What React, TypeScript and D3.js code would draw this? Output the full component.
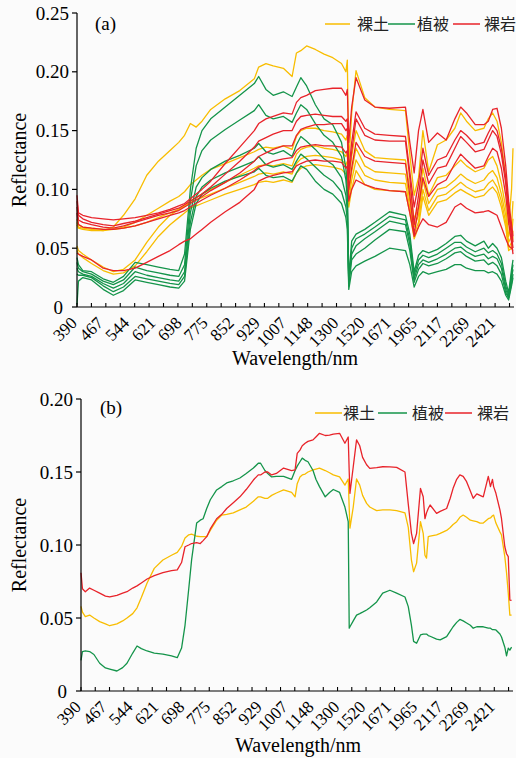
import React from 'react';
import * as d3 from 'd3';

// band index (water-vapour bands removed, so the axis is index based)
const bandA = [0, 1, 4, 10, 18, 25, 32, 40, 48, 56, 64, 70, 74, 78, 82, 86, 92, 102, 112, 122, 125, 130, 135, 142, 148, 151, 154, 158, 164, 170, 176, 182, 185, 186, 187, 189, 192, 198, 205, 215, 226, 229, 232, 235, 238, 242, 248, 254, 260, 264, 268, 274, 280, 283, 286, 289, 292, 295, 297, 299, 300];

// (a) individual spectra
const soilA = [
  [.072, .068, .067, .066, .065, .068, .078, .092, .112, .124, .133, .140, .146, .156, .153, .158, .168, .177, .184, .194, .204, .207, .205, .203, .196, .216, .218, .222, .219, .215, .212, .207, .200, .210, .120, .165, .201, .178, .170, .168, .167, .130, .095, .110, .150, .115, .138, .142, .152, .165, .158, .150, .152, .160, .165, .158, .140, .110, .070, .100, .135],
  [.075, .070, .068, .067, .066, .066, .068, .072, .078, .084, .090, .094, .098, .104, .108, .112, .117, .122, .127, .132, .134, .136, .135, .137, .134, .145, .150, .152, .152, .150, .149, .147, .142, .146, .105, .128, .150, .133, .127, .126, .125, .100, .075, .085, .118, .095, .110, .112, .120, .125, .120, .115, .118, .125, .128, .120, .105, .085, .060, .070, .090],
  [.070, .067, .066, .065, .065, .066, .067, .069, .072, .076, .080, .083, .086, .090, .093, .096, .100, .106, .112, .118, .120, .121, .120, .122, .120, .130, .134, .136, .137, .135, .134, .132, .128, .132, .095, .115, .135, .120, .115, .114, .113, .090, .068, .078, .108, .088, .100, .102, .108, .113, .109, .105, .108, .113, .116, .110, .096, .078, .055, .060, .075],
  [.052, .048, .045, .040, .034, .030, .032, .040, .055, .068, .078, .083, .086, .089, .091, .093, .096, .101, .106, .111, .113, .114, .113, .115, .113, .122, .126, .128, .129, .128, .127, .125, .121, .124, .090, .108, .125, .112, .108, .106, .105, .085, .062, .072, .100, .082, .094, .096, .102, .106, .102, .098, .100, .105, .108, .102, .090, .072, .050, .055, .065],
  [.048, .045, .042, .037, .031, .028, .029, .035, .047, .060, .070, .076, .080, .084, .086, .088, .091, .096, .100, .104, .106, .107, .106, .108, .106, .114, .118, .120, .121, .120, .119, .117, .113, .116, .085, .100, .116, .104, .100, .099, .098, .080, .058, .068, .094, .078, .089, .091, .097, .100, .097, .093, .095, .099, .102, .097, .085, .068, .048, .050, .060],
];
const vegA = [
  [.042, .036, .031, .030, .024, .021, .026, .038, .036, .034, .032, .031, .045, .100, .135, .150, .160, .170, .180, .190, .196, .185, .180, .183, .179, .187, .195, .188, .172, .160, .155, .140, .118, .100, .025, .056, .062, .066, .072, .081, .078, .062, .030, .044, .048, .046, .049, .054, .060, .061, .056, .052, .056, .050, .054, .050, .042, .022, .012, .032, .040],
  [.038, .033, .030, .028, .022, .019, .023, .034, .031, .029, .027, .026, .036, .090, .120, .133, .142, .151, .159, .167, .172, .163, .160, .162, .157, .165, .172, .168, .156, .146, .140, .128, .108, .092, .022, .050, .058, .062, .068, .077, .074, .057, .027, .040, .044, .042, .045, .050, .055, .055, .051, .047, .050, .046, .048, .045, .037, .018, .010, .028, .036],
  [.033, .030, .028, .026, .020, .016, .020, .030, .027, .025, .023, .022, .030, .080, .102, .110, .117, .124, .129, .135, .139, .132, .130, .133, .128, .138, .145, .141, .134, .126, .121, .110, .095, .082, .020, .045, .052, .058, .064, .073, .070, .053, .024, .036, .040, .038, .041, .045, .050, .051, .047, .043, .045, .041, .043, .041, .033, .015, .008, .025, .032],
  [.028, .027, .027, .025, .018, .013, .017, .026, .024, .022, .020, .019, .026, .072, .094, .102, .108, .114, .119, .124, .128, .121, .119, .121, .117, .124, .130, .126, .119, .112, .107, .098, .085, .074, .018, .040, .045, .050, .057, .066, .064, .048, .021, .032, .037, .035, .037, .041, .046, .047, .043, .039, .040, .036, .038, .035, .028, .012, .008, .020, .028],
  [.002, .022, .025, .023, .015, .010, .014, .023, .021, .019, .017, .016, .022, .066, .088, .096, .101, .107, .111, .115, .118, .112, .110, .111, .107, .114, .120, .117, .107, .100, .096, .088, .076, .066, .015, .030, .035, .039, .043, .050, .048, .036, .017, .026, .030, .028, .030, .032, .036, .036, .033, .031, .031, .029, .030, .028, .022, .010, .006, .018, .025],
];
const rockA = [
  [.095, .080, .078, .076, .075, .074, .075, .076, .078, .080, .083, .086, .088, .092, .096, .100, .107, .122, .136, .150, .156, .160, .162, .165, .164, .174, .178, .180, .184, .185, .186, .186, .180, .185, .140, .170, .195, .176, .170, .169, .170, .140, .114, .150, .168, .140, .148, .142, .160, .170, .165, .155, .155, .158, .168, .169, .152, .120, .090, .070, .060],
  [.090, .078, .075, .072, .070, .069, .071, .073, .076, .079, .082, .084, .087, .090, .093, .096, .102, .113, .124, .136, .141, .144, .147, .150, .150, .158, .162, .163, .164, .163, .162, .162, .158, .160, .115, .140, .166, .152, .147, .146, .145, .115, .085, .105, .135, .112, .125, .128, .142, .150, .146, .138, .140, .148, .155, .150, .135, .110, .085, .065, .055],
  [.085, .074, .072, .070, .068, .067, .069, .072, .075, .078, .080, .082, .085, .088, .091, .094, .099, .106, .114, .124, .128, .131, .134, .137, .137, .146, .151, .153, .155, .155, .156, .156, .150, .152, .110, .132, .160, .146, .142, .141, .141, .110, .070, .095, .125, .105, .118, .120, .135, .145, .140, .132, .134, .142, .150, .145, .130, .105, .080, .060, .050],
  [.080, .070, .068, .067, .066, .066, .067, .069, .072, .075, .078, .080, .082, .085, .088, .091, .095, .101, .108, .116, .119, .121, .124, .126, .127, .133, .136, .137, .138, .137, .137, .136, .131, .133, .100, .118, .140, .128, .124, .123, .122, .095, .062, .085, .110, .094, .104, .108, .122, .130, .125, .118, .120, .128, .135, .132, .118, .095, .072, .055, .045],
  [.046, .045, .043, .040, .033, .031, .031, .033, .038, .043, .048, .053, .056, .058, .062, .066, .072, .081, .089, .100, .107, .110, .112, .114, .115, .120, .122, .124, .125, .124, .124, .123, .118, .120, .090, .100, .108, .104, .101, .099, .098, .080, .060, .068, .075, .070, .068, .072, .085, .088, .084, .080, .081, .082, .080, .078, .068, .058, .052, .050, .048],
];

// (b) class means
const bandB = [0, 1, 3, 6, 9, 13, 17, 20, 25, 29, 32, 36, 39, 42, 46, 51, 57, 63, 67, 70, 72.4, 75, 77, 80.5, 83, 85, 87.5, 90, 94.4, 98, 101.4, 106, 110.6, 115, 120, 123.4, 125, 128, 130, 132.7, 136, 141, 146.6, 149, 150.5, 152.4, 154, 156, 158, 161.5, 163.5, 166, 170, 173, 175.6, 180, 183.7, 186, 186.7, 187.2, 189.5, 191.8, 194, 196, 198.8, 201, 205.8, 210, 215, 219.7, 225.5, 227.8, 230, 231.5, 233.6, 236.3, 238.2, 239.4, 240.5, 241.7, 243, 247.5, 250, 254.5, 257, 259, 261.5, 263.7, 266, 268.4, 271, 273, 275.5, 277.7, 280, 283.5, 285, 286.4, 287.2, 288.8, 291.6, 292.7, 295, 296.2, 297.4, 298.5, 299.7];
const soilB = [.058, .054, .051, .052, .050, .0475, .046, .0447, .046, .048, .050, .053, .057, .064, .074, .084, .0897, .093, .095, .099, .1048, .107, .1075, .106, .1057, .1057, .1057, .110, .117, .1205, .121, .122, .124, .126, .130, .133, .133, .132, .132, .134, .1356, .1377, .136, .133, .142, .1466, .148, .1486, .150, .1514, .152, .1527, .151, .1495, .148, .1466, .141, .1452, .125, .1116, .126, .1452, .141, .134, .1285, .126, .1235, .124, .124, .1235, .122, .112, .0897, .0817, .0876, .116, .108, .093, .091, .1057, .106, .107, .108, .110, .112, .114, .116, .119, .1205, .119, .117, .1166, .116, .115, .115, .118, .1185, .120, .1205, .115, .109, .1068, .092, .081, .067, .052, .052];
const vegB = [.021, .027, .0275, .027, .025, .019, .0158, .015, .0137, .016, .019, .026, .0308, .029, .0274, .026, .0253, .024, .0228, .0294, .045, .070, .090, .115, .117, .118, .125, .131, .1377, .140, .1425, .144, .1459, .149, .1527, .156, .156, .151, .149, .1466, .147, .147, .145, .151, .154, .157, .1595, .158, .157, .151, .145, .140, .133, .136, .138, .136, .126, .116, .043, .044, .048, .052, .053, .054, .0555, .057, .061, .067, .069, .067, .0644, .0578, .045, .034, .0327, .0384, .039, .039, .039, .038, .0375, .0355, .035, .0372, .041, .044, .047, .049, .048, .0466, .045, .043, .044, .044, .044, .043, .043, .042, .042, .0418, .039, .037, .030, .024, .0294, .028, .030];
const rockB = [.081, .070, .068, .0705, .069, .067, .065, .0644, .0655, .067, .068, .0705, .072, .074, .0767, .079, .081, .0825, .083, .088, .0988, .100, .101, .1016, .101, .103, .1057, .111, .118, .121, .125, .129, .133, .138, .1445, .148, .148, .150, .150, .148, .149, .1527, .151, .1514, .1628, .165, .168, .1697, .171, .172, .174, .1765, .175, .1753, .176, .1765, .1697, .174, .150, .1354, .1536, .172, .168, .160, .155, .1525, .153, .1536, .1535, .1532, .150, .128, .108, .101, .108, .1388, .133, .118, .122, .125, .1274, .1217, .123, .125, .132, .1388, .145, .148, .147, .1434, .137, .132, .135, .134, .133, .147, .140, .145, .140, .1354, .124, .118, .0988, .094, .092, .0623, .062];

const wavelengthLabels = ['390', '467', '544', '621', '698', '775', '852', '929', '1007', '1148', '1300', '1520', '1671', '1965', '2117', '2269', '2421'];
const labelStep = 18;
const minorStep = 9.92;
const classNames = ['裸土', '植被', '裸岩'];

const COLORS = ['#f8bd00', '#14944a', '#e8232a'];
const SERIF = "'Liberation Serif', Tinos, 'Times New Roman', 'Nimbus Roman', 'Nimbus Roman No9 L', FreeSerif, 'DejaVu Serif', 'Noto Serif', serif";
const CJK = "'Noto Sans CJK SC', sans-serif";

type PanelProps = {
  tag: string;
  x0: number; x1: number; y0: number; y1: number;
  yMax: number;
  yTicks: number[];
  groups: number[][][];
  band: number[];
  legendY: number;
  legendLines: [number, number][];
  legendText: number[];
  titleY: number;
  titleX: number;
  tagX: number; tagY: number;
  ylabelY: number;
};

function Panel(p: PanelProps) {
  const x = d3.scaleLinear().domain([0, 300]).range([p.x0, p.x1]);
  const y = d3.scaleLinear().domain([0, p.yMax]).range([p.y0, p.y1]);
  const line = d3.line<[number, number]>()
    .defined(d => d[1] !== undefined)
    .x(d => x(d[0]))
    .y(d => y(d[1]));

  const minor = d3.range(0, 31).map(k => k * minorStep);
  const serif = { fontFamily: SERIF };

  return (
    <g>
      {p.groups.map((grp, gi) => (
        <g key={gi}>
          {grp.map((vals, si) => (
            <path
              key={si}
              d={line(p.band.map((b, i) => [b, vals[i]] as [number, number])) || ''}
              fill="none"
              stroke={COLORS[gi]}
              strokeWidth={1.3}
              strokeLinejoin="round"
            />
          ))}
        </g>
      ))}

      {/* y axis */}
      <line x1={p.x0} x2={p.x0} y1={p.y0} y2={p.y1} stroke="#000" strokeWidth={1.2} />
      {p.yTicks.map(t => (
        <g key={t}>
          <line x1={p.x0 - 5} x2={p.x0} y1={y(t)} y2={y(t)} stroke="#000" strokeWidth={1.2} />
          <text
            x={t === 0 ? p.x0 - 14 : p.x0 - 8}
            y={y(t)}
            dy="0.35em"
            textAnchor="end"
            style={serif}
            fontSize={19}
          >
            {t === 0 ? '0' : t.toFixed(2)}
          </text>
        </g>
      ))}

      {/* x axis */}
      <line x1={p.x0} x2={p.x1 + 1} y1={p.y0} y2={p.y0} stroke="#000" strokeWidth={1.2} />
      {minor.map(m => (
        <line key={m} x1={x(m)} x2={x(m)} y1={p.y0} y2={p.y0 - 4} stroke="#000" strokeWidth={1.1} />
      ))}
      {wavelengthLabels.map((lab, i) => (
        <text
          key={lab}
          transform={`translate(${x(i * labelStep) + 1},${p.y0 + 17}) rotate(-45)`}
          textAnchor="end"
          style={serif}
          fontSize={17}
        >
          {lab}
        </text>
      ))}

      <text x={p.titleX} y={p.titleY} textAnchor="middle" style={serif} fontSize={20}>
        Wavelength/nm
      </text>
      <text
        transform={`translate(26,${p.ylabelY}) rotate(-90)`}
        textAnchor="middle"
        style={serif}
        fontSize={20}
      >
        Reflectance
      </text>
      <text x={p.tagX} y={p.tagY} style={serif} fontSize={19}>{p.tag}</text>

      {/* legend */}
      {classNames.map((name, i) => (
        <g key={name}>
          <line
            x1={p.legendLines[i][0]}
            x2={p.legendLines[i][1]}
            y1={p.legendY}
            y2={p.legendY}
            stroke={COLORS[i]}
            strokeWidth={1.5}
          />
          <text x={p.legendText[i]} y={p.legendY} dy="0.36em" style={{ fontFamily: CJK }} fontSize={16} fill="#222">
            {name}
          </text>
        </g>
      ))}
    </g>
  );
}

export default function App() {
  return (
    <svg
      width={522}
      height={758}
      style={{ position: 'absolute', left: 0, top: 0, background: '#fff' }}
    >
      <rect x={0} y={0} width={516} height={758} fill="#fbfbfb" />
      <Panel
        tag="(a)"
        x0={77} x1={513} y0={307} y1={13}
        yMax={0.25}
        yTicks={[0, 0.05, 0.1, 0.15, 0.2, 0.25]}
        groups={[soilA, vegA, rockA]}
        band={bandA}
        legendY={24}
        legendLines={[[325, 350], [388, 415], [453, 480]]}
        legendText={[357, 417, 484]}
        titleX={295}
        titleY={365}
        tagX={95}
        tagY={30}
        ylabelY={160}
      />
      <Panel
        tag="(b)"
        x0={81} x1={512} y0={691} y1={399}
        yMax={0.2}
        yTicks={[0, 0.05, 0.1, 0.15, 0.2]}
        groups={[[soilB], [vegB], [rockB]]}
        band={bandB}
        legendY={413}
        legendLines={[[315, 342], [378, 407], [445, 472]]}
        legendText={[343, 412, 477]}
        titleX={298}
        titleY={752}
        tagX={100}
        tagY={414}
        ylabelY={545}
      />
    </svg>
  );
}
